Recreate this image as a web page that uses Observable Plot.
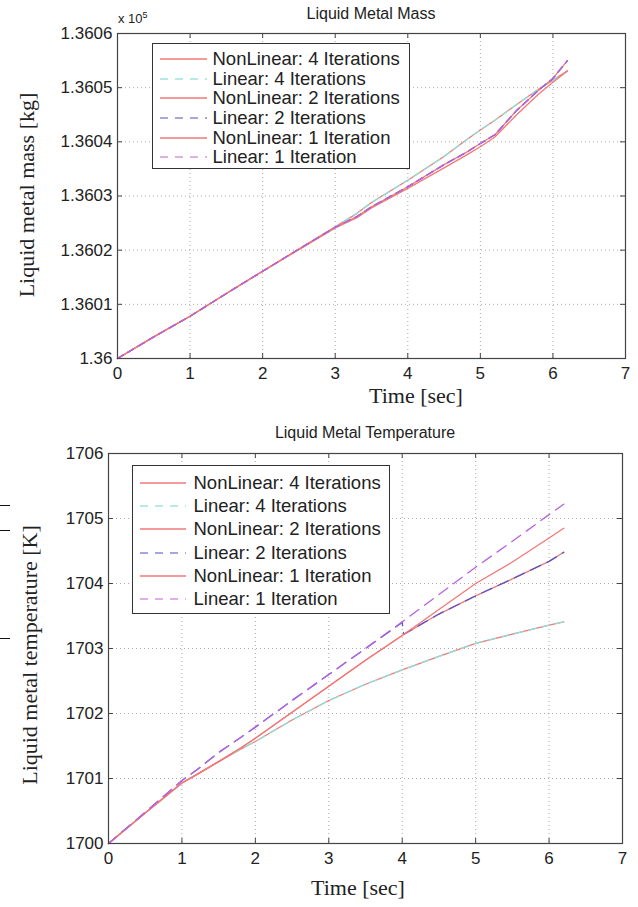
<!DOCTYPE html>
<html><head><meta charset="utf-8">
<script src="https://cdn.jsdelivr.net/npm/d3@7"></script>
<script src="https://cdn.jsdelivr.net/npm/@observablehq/plot@0.6"></script>
<style>
body{margin:0;background:#fff;}
#root{position:relative;width:638px;height:907px;overflow:hidden;background:#fff;}
.abs{position:absolute;white-space:nowrap;}
.title{font-family:"Liberation Sans",Arial,sans-serif;font-size:16px;color:#222;transform:translateX(-50%);}
.axlab{font-family:"Liberation Serif","Times New Roman",serif;font-size:22px;color:#222;}
.legend{position:absolute;border:1.5px solid #333;background:#fff;box-sizing:border-box;}
.lrow{position:absolute;left:0;display:flex;align-items:center;font-family:"Liberation Sans",Arial,sans-serif;font-size:18.5px;color:#222;}
.stray{position:absolute;left:0;width:10px;height:1px;background:#111;}
</style>
</head><body><div id="root"></div>
<script>
// ---------- data ----------
const seriesNames = ["NonLinear: 4 Iterations","Linear: 4 Iterations","NonLinear: 2 Iterations","Linear: 2 Iterations","NonLinear: 1 Iteration","Linear: 1 Iteration"];
const xTicks = [0,1,2,3,4,5,6,7];
const massTicks = [136000,136010,136020,136030,136040,136050,136060];
const tempTicks = [1700,1701,1702,1703,1704,1705,1706];

// Liquid metal mass [kg]
const massTime = [0,0.5,1,1.5,2,2.5,3,3.3,3.5,4,4.5,4.8,5,5.2,5.5,5.8,6,6.2];
const massNL4 = [136000,136004.0,136007.8,136012.0,136016.1,136020.2,136024.3,136026.8,136028.8,136032.9,136037.3,136040.3,136042.2,136044.0,136046.9,136049.7,136051.4,136053.1];
const massL4  = [136000,136004.0,136007.8,136012.0,136016.1,136020.2,136024.3,136026.8,136028.8,136032.9,136037.3,136040.3,136042.2,136044.0,136046.9,136049.7,136051.4,136053.1];
const massNL2 = [136000,136004.0,136007.8,136012.0,136016.1,136020.2,136024.2,136026.2,136028.0,136031.7,136035.8,136038.0,136039.7,136041.3,136045.8,136049.5,136051.7,136055.0];
const massL2  = [136000,136004.0,136007.8,136012.0,136016.1,136020.2,136024.2,136026.2,136028.0,136031.7,136035.8,136038.0,136039.7,136041.3,136045.8,136049.5,136051.7,136055.0];
const massNL1 = [136000,136004.0,136007.8,136012.0,136016.1,136020.1,136024.1,136026.0,136027.8,136031.4,136035.2,136037.5,136039.1,136040.9,136045.0,136048.8,136051.0,136053.1];
const massL1  = [136000,136004.0,136007.8,136012.0,136016.1,136020.2,136024.2,136026.2,136028.0,136031.7,136035.8,136038.0,136039.7,136041.3,136045.8,136049.5,136051.7,136055.0];

// Liquid metal temperature [K]
const tempTime   = [0,0.5,1,1.2,1.5,1.8,2,2.5,3,3.5,4,4.5,5,5.5,6,6.2];
const tempNL4 = [1700,1700.47,1700.93,1701.06,1701.26,1701.45,1701.57,1701.90,1702.20,1702.45,1702.67,1702.88,1703.08,1703.22,1703.36,1703.41];
const tempL4  = [1700,1700.47,1700.93,1701.06,1701.26,1701.45,1701.57,1701.90,1702.20,1702.45,1702.67,1702.88,1703.08,1703.22,1703.36,1703.41];
const tempNL2 = [1700,1700.47,1700.93,1701.06,1701.26,1701.47,1701.62,1702.02,1702.42,1702.82,1703.20,1703.53,1703.81,1704.07,1704.34,1704.48];
const tempL2Time = [0,0.5,1,1.2,1.5,1.8,2,2.5,3,3.5,4,4.02,4.5,5,5.5,6,6.2];
const tempL2  = [1700,1700.48,1700.97,1701.13,1701.40,1701.63,1701.79,1702.20,1702.60,1703.00,1703.40,1703.22,1703.53,1703.81,1704.07,1704.34,1704.48];
const tempNL1 = [1700,1700.47,1700.93,1701.06,1701.26,1701.47,1701.62,1702.02,1702.42,1702.82,1703.20,1703.60,1704.00,1704.33,1704.70,1704.85];
const tempL1  = [1700,1700.48,1700.97,1701.13,1701.40,1701.63,1701.79,1702.20,1702.60,1703.00,1703.41,1703.83,1704.25,1704.65,1705.06,1705.22];

// ---------- styles ----------
const colors = ["#f27878","#8ee0da","#f27878","#5858c8","#f27878","#b862e0"];
const legendColors = ["#f27878","#9ee4de","#f27878","#8a8ad6","#f27878","#d496dc"];

function rows(t, v){ return t.map((x,i)=>({t:x, v:v[i]})); }

const root = document.getElementById("root");
function add(html){ root.insertAdjacentHTML("beforeend", html); }

function makeChart({W,H,mL,mR,mT,mB,domain,yTicks,fmt,series,dash}){
  const iw = W-mL-mR, ih = H-mT-mB;
  const marks = [
    Plot.gridX(xTicks,{stroke:"#888",strokeOpacity:0.7,strokeDasharray:"1,3"}),
    Plot.gridY(yTicks,{stroke:"#888",strokeOpacity:0.7,strokeDasharray:"1,3"}),
  ];
  series.forEach((s,i)=>{
    marks.push(Plot.line(rows(s[0],s[1]),{x:"t",y:"v",stroke:colors[i],strokeWidth:1.3,strokeDasharray:dash[i]}));
  });
  marks.push(
    Plot.ruleX(xTicks,{stroke:"#444",insetTop:ih-5}),
    Plot.ruleX(xTicks,{stroke:"#444",insetBottom:ih-5}),
    Plot.ruleY(yTicks,{stroke:"#444",insetRight:iw-5}),
    Plot.ruleY(yTicks,{stroke:"#444",insetLeft:iw-5}),
    Plot.frame({stroke:"#444",strokeWidth:1.2}),
    Plot.axisX(xTicks,{tickSize:0,tickPadding:8,label:null,fill:"#222"}),
    Plot.axisY(yTicks,{tickSize:0,tickPadding:5,label:null,tickFormat:fmt,fill:"#222"})
  );
  return Plot.plot({
    width:W,height:H,marginLeft:mL,marginRight:mR,marginTop:mT,marginBottom:mB,
    x:{domain:[0,7]}, y:{domain},
    style:{fontFamily:"'Liberation Sans',Arial,sans-serif",fontSize:"17px",background:"transparent",overflow:"visible"},
    marks
  });
}

// top chart
const massChart = makeChart({W:638,H:410,mL:117,mR:13,mT:33,mB:52,domain:[136000,136060],yTicks:massTicks,
  fmt:d=>String(+(d/1e5).toFixed(4)),
  series:[[massTime,massNL4],[massTime,massL4],[massTime,massNL2],[massTime,massL2],[massTime,massNL1],[massTime,massL1]],
  dash:[null,"7,5",null,"7,5",null,"7,5"]});
massChart.style.position="absolute"; massChart.style.left="0px"; massChart.style.top="0px";
root.appendChild(massChart);

// bottom chart
const tempChart = makeChart({W:638,H:487,mL:108,mR:16,mT:33,mB:64,domain:[1700,1706],yTicks:tempTicks,
  fmt:d=>String(d),
  series:[[tempTime,tempNL4],[tempTime,tempL4],[tempTime,tempNL2],[tempL2Time,tempL2],[tempTime,tempNL1],[tempTime,tempL1]],
  dash:[null,"8,6",null,"11,7",null,"11,7"]});
tempChart.style.position="absolute"; tempChart.style.left="0px"; tempChart.style.top="420px";
root.appendChild(tempChart);

// titles and labels
add(`<div class="abs title" style="left:371px;top:5px;">Liquid Metal Mass</div>`);
add(`<div class="abs" style="left:118px;top:10px;font-family:'Liberation Sans',Arial,sans-serif;font-size:13px;color:#222;">x 10<sup style="font-size:9px;">5</sup></div>`);
add(`<div class="abs title" style="left:365px;top:424px;">Liquid Metal Temperature</div>`);
add(`<div class="abs axlab" style="left:416px;top:383px;transform:translateX(-50%);">Time [sec]</div>`);
add(`<div class="abs axlab" style="left:358px;top:875px;transform:translateX(-50%);">Time [sec]</div>`);
add(`<div class="abs axlab" style="left:27px;top:195px;transform:translate(-50%,-50%) rotate(-90deg);">Liquid metal mass [kg]</div>`);
add(`<div class="abs axlab" style="left:30px;top:655px;transform:translate(-50%,-50%) rotate(-90deg);">Liquid metal temperature [K]</div>`);

// legends
function legend(left, topY, w, h, rowYs, lineX0, lineX1, textX, dashL){
  let html = `<div class="legend" style="left:${left}px;top:${topY}px;width:${w}px;height:${h}px;">`;
  seriesNames.forEach((n,i)=>{
    const y = rowYs[i]-topY;
    const d = dashL[i] ? `stroke-dasharray="${dashL[i]}"` : "";
    html += `<div class="lrow" style="top:${y-12}px;height:24px;left:${lineX0-left-1.5}px;">
      <svg width="${lineX1-lineX0}" height="24" style="display:block"><line x1="0" x2="${lineX1-lineX0}" y1="12" y2="12" stroke="${legendColors[i]}" stroke-width="1.4" ${d}/></svg>
      <span style="margin-left:${textX-lineX1}px">${n}</span></div>`;
  });
  html += `</div>`;
  add(html);
}
legend(152,43,258,126,[58,78,97,117,137,156],160,207,213,[null,"8,7",null,"8,7",null,"8,7"]);
legend(132,465,258,149,[482,505,528,552,575,598],140,186,194,[null,"8,7",null,"8,7",null,"8,7"]);

// stray marks at left edge of the scan
[505,530,638].forEach(y=>add(`<div class="stray" style="top:${y}px"></div>`));
</script>
</body></html>
